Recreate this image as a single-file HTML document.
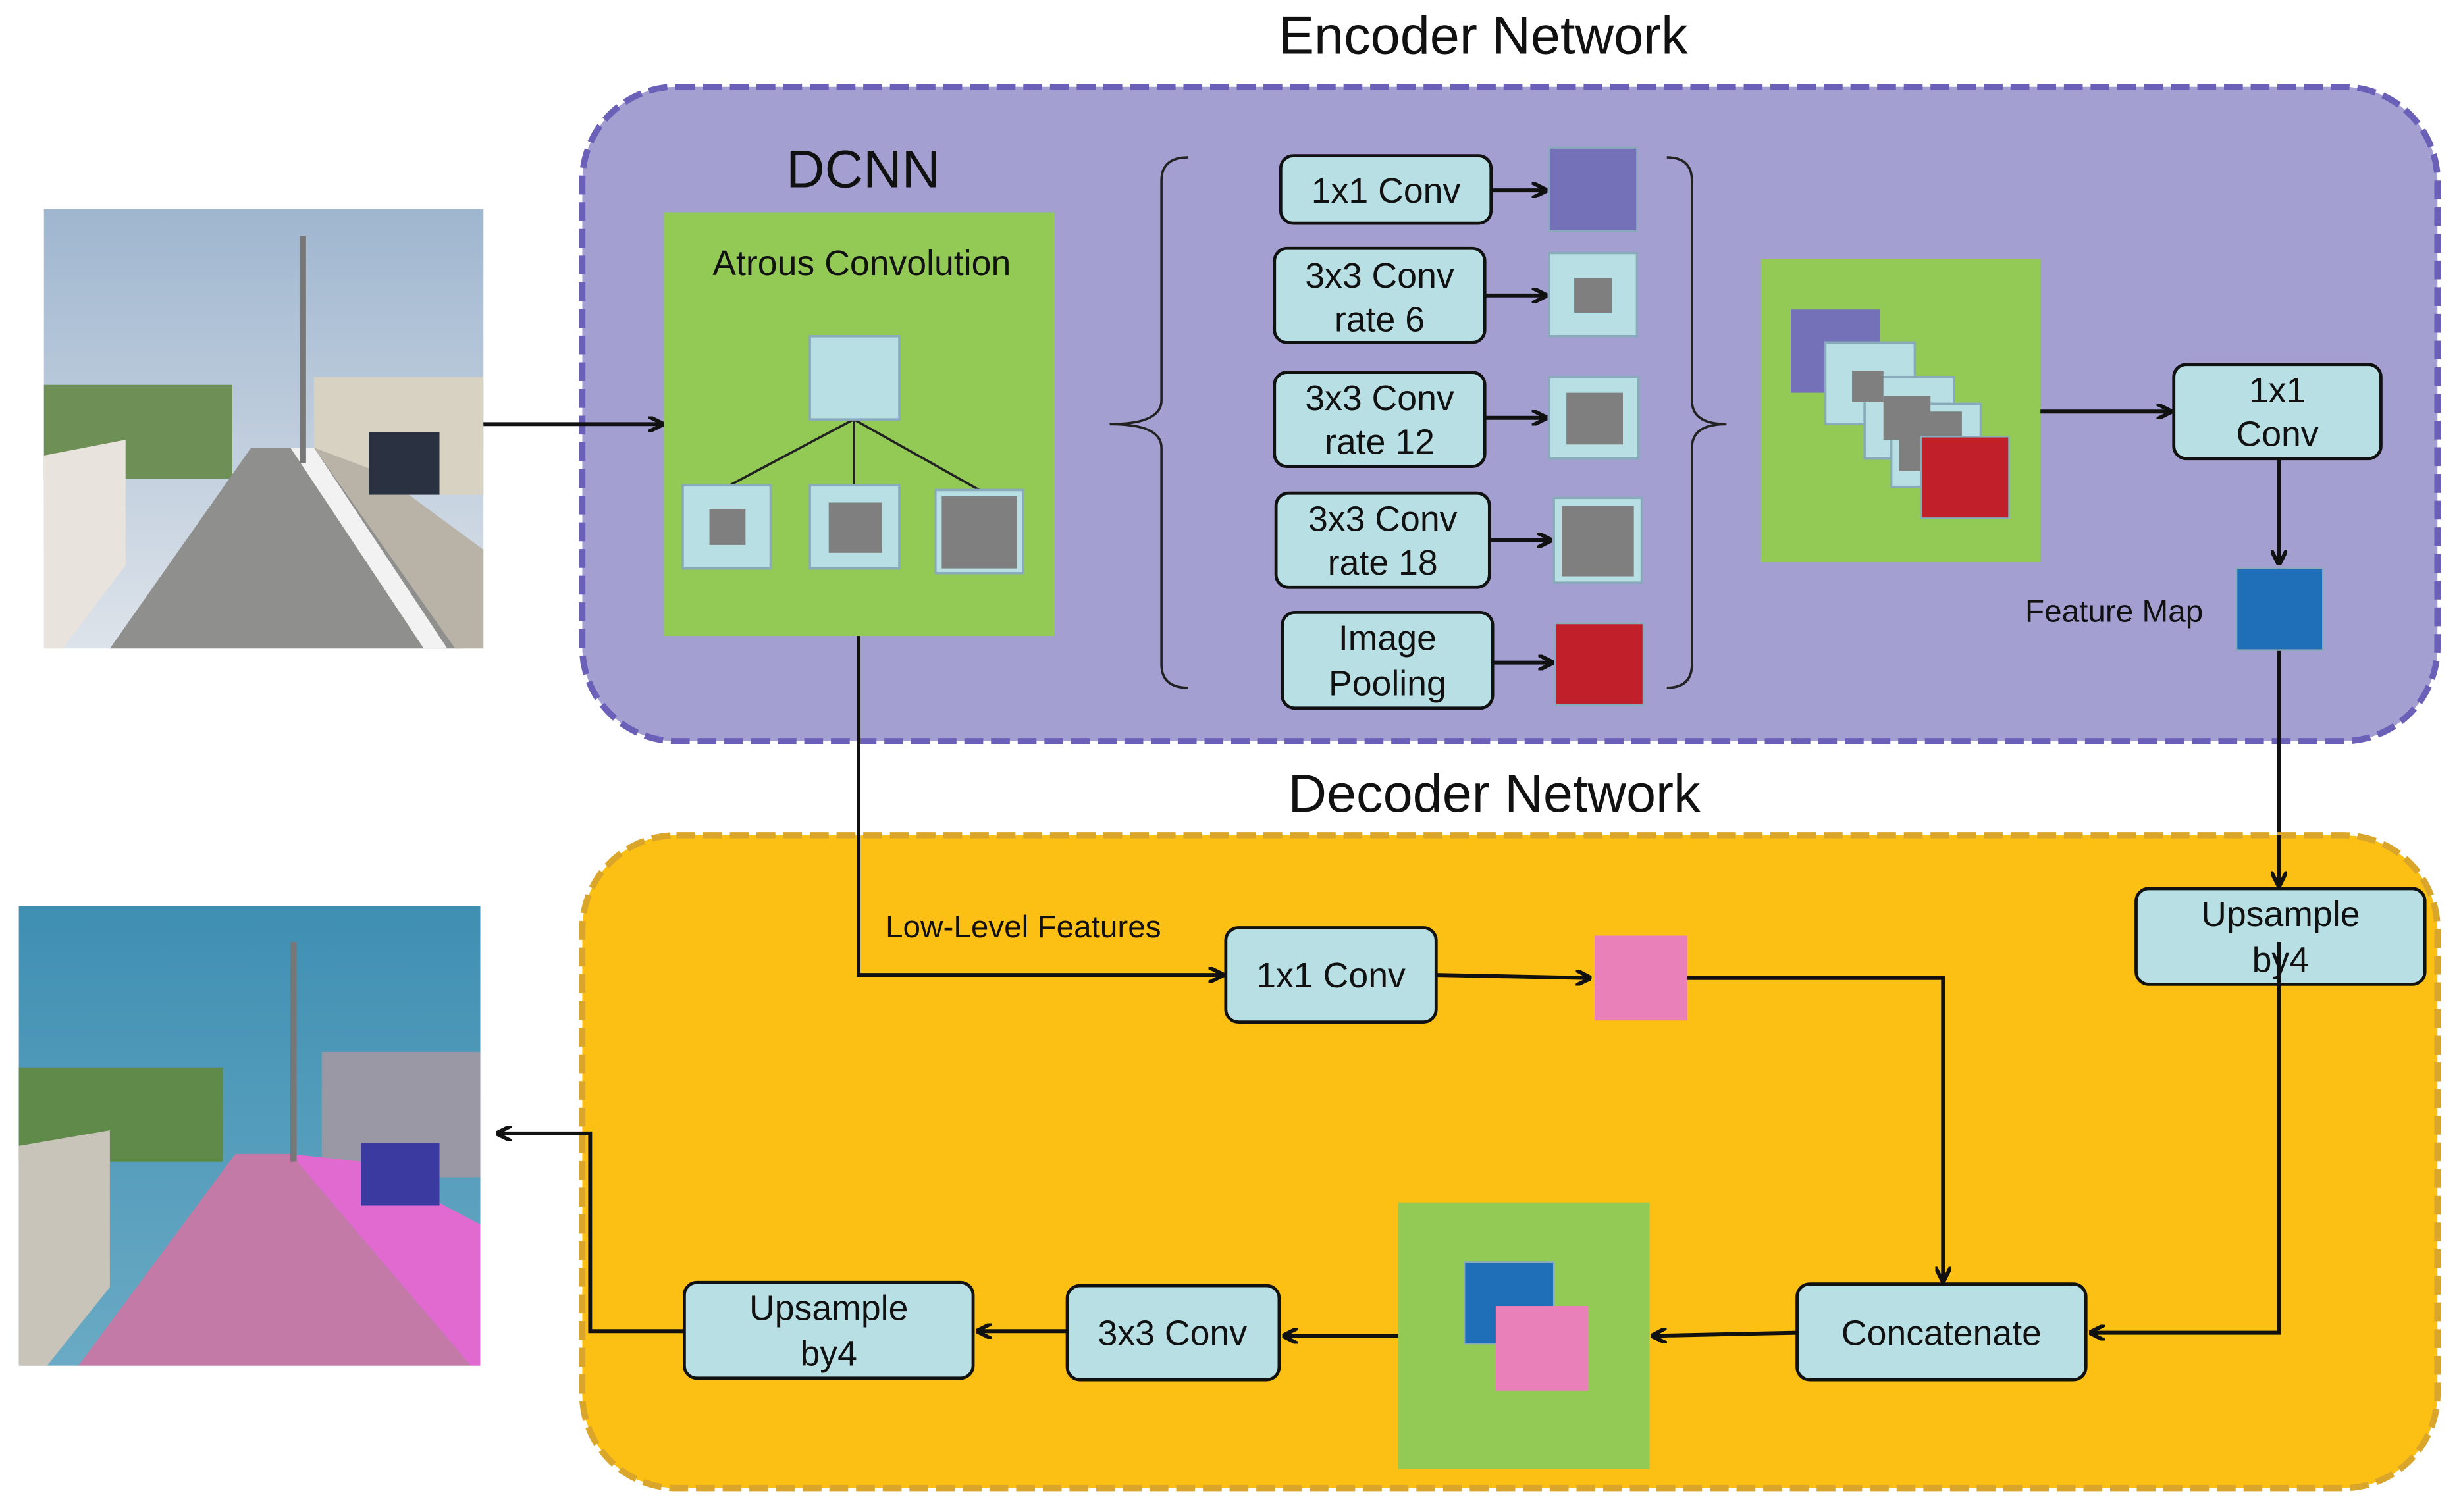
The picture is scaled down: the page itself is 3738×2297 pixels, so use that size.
<!DOCTYPE html>
<html><head><meta charset="utf-8"><style>html,body{margin:0;padding:0;background:#fff}svg{display:block}text{font-family:"Liberation Sans",sans-serif;fill:#111}</style></head>
<body>
<svg width="3738" height="2297" viewBox="0 0 1568 963" xmlns="http://www.w3.org/2000/svg">
<defs>
<marker id="a" markerWidth="10" markerHeight="10" refX="9" refY="5" orient="auto" markerUnits="userSpaceOnUse"><path d="M0,0 L10,5 L0,10" fill="none" stroke="#111" stroke-width="2.5"/></marker>
<linearGradient id="sky" x1="0" y1="0" x2="0" y2="1"><stop offset="0" stop-color="#9fb6cf"/><stop offset="1" stop-color="#dde3ea"/></linearGradient>
<linearGradient id="sky2" x1="0" y1="0" x2="0" y2="1"><stop offset="0" stop-color="#3f8fb3"/><stop offset="1" stop-color="#6aaac4"/></linearGradient>
</defs>
<rect width="1568" height="963" fill="#fff"/>
<g>
<rect x="28" y="133" width="280" height="280" fill="url(#sky)"/>
<rect x="28" y="245" width="120" height="60" fill="#6e8f55"/>
<rect x="200" y="240" width="108" height="75" fill="#d8d2c2"/>
<polygon points="28,413 28,290 80,280 80,360 40,413" fill="#e8e3dc"/>
<polygon points="70,413 160,285 200,285 295,413" fill="#8f8f8d"/>
<polygon points="185,285 200,285 285,413 270,413" fill="#f2f2f2"/>
<polygon points="200,285 240,300 308,350 308,413 290,413" fill="#b9b3a7"/>
<rect x="235" y="275" width="45" height="40" fill="#2a3140"/>
<rect x="191" y="150" width="4" height="145" fill="#777"/>
</g>
<g>
<rect x="12" y="577" width="294" height="293" fill="url(#sky2)"/>
<rect x="12" y="680" width="130" height="60" fill="#5f8a4a"/>
<rect x="205" y="670" width="101" height="80" fill="#9a98a4"/>
<polygon points="12,870 12,730 70,720 70,820 30,870" fill="#c9c4ba"/>
<polygon points="50,870 150,735 185,735 300,870" fill="#c47aa6"/>
<polygon points="185,735 230,740 306,780 306,870 300,870" fill="#e06ad0"/>
<rect x="230" y="728" width="50" height="40" fill="#3b3aa0"/>
<rect x="185" y="600" width="4" height="140" fill="#777"/>
</g>
<text x="945" y="34" font-size="34" text-anchor="middle">Encoder Network</text>
<rect x="371" y="55" width="1182" height="417" rx="60" fill="#a39fd1" stroke="#6a60b8" stroke-width="4" stroke-dasharray="12,5"/>
<text x="550" y="119" font-size="34" text-anchor="middle">DCNN</text>
<rect x="423" y="135" width="249" height="270" fill="#93c955"/>
<text x="549" y="175" font-size="22.5" text-anchor="middle">Atrous Convolution</text>
<g stroke="#222" stroke-width="1.5"><line x1="544" y1="267" x2="463" y2="310"/><line x1="544" y1="267" x2="544" y2="310"/><line x1="544" y1="267" x2="624" y2="312"/></g>
<g stroke="#8ab" stroke-width="1.5" fill="#b8e0e4">
<rect x="516" y="214" width="57" height="53"/>
<rect x="435" y="309" width="56" height="53"/>
<rect x="516" y="309" width="57" height="53"/>
<rect x="596" y="312" width="56" height="53"/>
<rect x="987" y="161" width="56" height="53"/>
<rect x="987" y="240" width="57" height="52"/>
<rect x="990" y="317" width="56" height="54"/>
</g>
<g fill="#7f7f7f">
<rect x="452" y="324" width="23" height="23"/>
<rect x="528" y="320" width="34" height="32"/>
<rect x="600" y="316" width="48" height="46"/>
<rect x="1003" y="177" width="24" height="22"/>
<rect x="998" y="250" width="36" height="33"/>
<rect x="995" y="322" width="46" height="45"/>
</g>
<line x1="308" y1="270" x2="422" y2="270" stroke="#111" stroke-width="2.5" marker-end="url(#a)"/>
<path d="M757,100 Q740,100 740,115 L740,255 Q740,270 707,270 Q740,270 740,285 L740,423 Q740,438 757,438" fill="none" stroke="#222" stroke-width="1.5"/>
<path d="M1062,100 Q1078,100 1078,115 L1078,255 Q1078,270 1100,270 Q1078,270 1078,285 L1078,423 Q1078,438 1062,438" fill="none" stroke="#222" stroke-width="1.5"/>
<g fill="#b8e0e4" stroke="#111" stroke-width="2">
<rect x="816" y="99" width="134" height="43" rx="8"/>
<rect x="812" y="158" width="134" height="60" rx="8"/>
<rect x="812" y="237" width="134" height="60" rx="8"/>
<rect x="813" y="314" width="136" height="60" rx="8"/>
<rect x="817" y="390" width="134" height="61" rx="8"/>
<rect x="1385" y="232" width="132" height="60" rx="8"/>
</g>
<g font-size="22.5" text-anchor="middle">
<text x="883" y="129">1x1 Conv</text>
<text x="879" y="183">3x3 Conv</text><text x="879" y="211">rate 6</text>
<text x="879" y="261">3x3 Conv</text><text x="879" y="289">rate 12</text>
<text x="881" y="338">3x3 Conv</text><text x="881" y="366">rate 18</text>
<text x="884" y="414">Image</text><text x="884" y="443">Pooling</text>
<text x="1451" y="256">1x1</text><text x="1451" y="284">Conv</text>
</g>
<g stroke="#111" stroke-width="2.5" fill="none" marker-end="url(#a)">
<line x1="950" y1="121" x2="985" y2="121"/>
<line x1="946" y1="188" x2="985" y2="188"/>
<line x1="946" y1="266" x2="985" y2="266"/>
<line x1="949" y1="344" x2="988" y2="344"/>
<line x1="951" y1="422" x2="989" y2="422"/>
<line x1="1300" y1="262" x2="1383" y2="262"/>
<line x1="1452" y1="292" x2="1452" y2="359"/>
<line x1="1452" y1="414" x2="1452" y2="564"/>
</g>
<line x1="547" y1="405" x2="547" y2="540" stroke="#111" stroke-width="2.5"/>
<rect x="987" y="94" width="56" height="53" fill="#7471b8" stroke="#8ab" stroke-width="1"/>
<rect x="991" y="397" width="56" height="52" fill="#c1202a" stroke="#8ab" stroke-width="1"/>
<rect x="1122" y="165" width="178" height="193" fill="#93c955"/>
<rect x="1141" y="197" width="57" height="53" fill="#7471b8"/>
<g fill="#b8e0e4" stroke="#8ab" stroke-width="1.5">
<rect x="1163" y="218" width="57" height="52"/>
<rect x="1188" y="240" width="57" height="52"/>
<rect x="1205" y="257" width="57" height="53"/>
</g>
<g fill="#7f7f7f"><rect x="1180" y="236" width="20" height="20"/><rect x="1200" y="252" width="30" height="28"/><rect x="1210" y="262" width="40" height="38"/></g>
<rect x="1224" y="278" width="56" height="52" fill="#c1202a" stroke="#8ab" stroke-width="1"/>
<text x="1347" y="396" font-size="20" text-anchor="middle">Feature Map</text>
<rect x="1425" y="362" width="55" height="52" fill="#1f6fb8" stroke="#8ab" stroke-width="1"/>
<text x="952" y="517" font-size="34" text-anchor="middle">Decoder Network</text>
<rect x="371" y="532" width="1182" height="416" rx="60" fill="#fcbf13" stroke="#d9a52a" stroke-width="4" stroke-dasharray="12,5"/>
<g stroke="#111" stroke-width="2.5" fill="none" marker-end="url(#a)">
<polyline points="1452,627 1452,849 1332,849"/>
<polyline points="547,532 547,621 779,621"/>
<line x1="915" y1="621" x2="1013" y2="623"/>
<polyline points="1075,623 1238,623 1238,816"/>
<line x1="1145" y1="849" x2="1053" y2="851"/>
<line x1="891" y1="851" x2="818" y2="851"/>
<line x1="680" y1="848" x2="623" y2="848"/>
<polyline points="436,848 376,848 376,722 317,722"/>
</g>
<line x1="1452" y1="532" x2="1452" y2="564" stroke="#111" stroke-width="2.5" marker-end="url(#a)"/>
<g fill="#b8e0e4" stroke="#111" stroke-width="2">
<rect x="1361" y="566" width="184" height="61" rx="8"/>
<rect x="781" y="591" width="134" height="60" rx="8"/>
<rect x="1145" y="818" width="184" height="61" rx="8"/>
<rect x="680" y="819" width="135" height="60" rx="8"/>
<rect x="436" y="817" width="184" height="61" rx="8"/>
</g>
<g font-size="22.5" text-anchor="middle">
<text x="1453" y="590">Upsample</text><text x="1453" y="619">by4</text>
<text x="848" y="629">1x1 Conv</text>
<text x="1237" y="857">Concatenate</text>
<text x="747" y="857">3x3 Conv</text>
<text x="528" y="841">Upsample</text><text x="528" y="870">by4</text>
</g>
<line x1="1452" y1="600" x2="1452" y2="640" stroke="#111" stroke-width="2.5"/>
<text x="652" y="597" font-size="20" text-anchor="middle">Low-Level Features</text>
<rect x="1016" y="596" width="59" height="54" fill="#ea80b9"/>
<rect x="891" y="766" width="160" height="170" fill="#93c955"/>
<rect x="933" y="804" width="57" height="52" fill="#1f6fb8" stroke="#8ab" stroke-width="1"/>
<rect x="953" y="832" width="59" height="54" fill="#ea80b9"/>
</svg>
</body></html>
